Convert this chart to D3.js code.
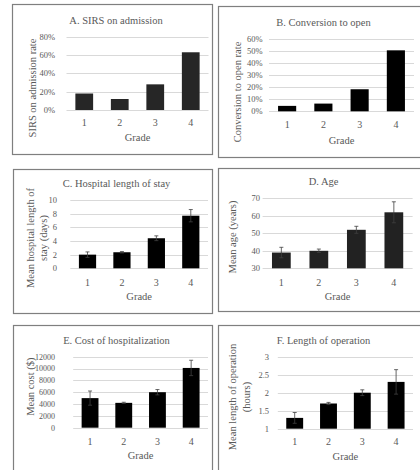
<!DOCTYPE html>
<html>
<head>
<meta charset="utf-8">
<script src="https://cdn.jsdelivr.net/npm/d3@7"></script>
<style>
  body { margin: 0; background: #fff; }
  svg text { font-family: 'Liberation Serif', serif; fill: #595959; }
</style>
</head>
<body>
<div id="chart"></div>
<script>
const grades = ['1', '2', '3', '4'];

const sirsRate = [18, 12, 28, 63];
const sirsTicks = [0, 20, 40, 60, 80];

const conversionRate = [4.5, 6.4, 18.3, 50.6];
const conversionTicks = [0, 10, 20, 30, 40, 50, 60];

const losMean = [2.0, 2.35, 4.4, 7.7];
const losErr = [0.4, 0.1, 0.35, 0.9];
const losTicks = [0, 2, 4, 6, 8, 10];

const ageMean = [39, 40, 52, 62];
const ageErr = [3, 1, 2, 6];
const ageTicks = [30, 40, 50, 60, 70];

const costMean = [5000, 4200, 6000, 10100];
const costErr = [1200, 100, 450, 1300];
const costTicks = [0, 2000, 4000, 6000, 8000, 10000, 12000];

const opMean = [1.3, 1.7, 2.0, 2.3];
const opErr = [0.15, 0.03, 0.08, 0.34];
const opTicks = [1, 1.5, 2, 2.5, 3];

const svg = d3.select('#chart').append('svg')
  .attr('width', 420)
  .attr('height', 470)
  .attr('font-family', 'Liberation Serif, serif');

// panel layouts (pixel positions only)
const panels = [
  { title: 'A. SIRS on admission', ylabel: ['SIRS on admission rate'], values: sirsRate, ticks: sirsTicks, fmt: d => d + '%',
    box: [12, 4, 212, 154], x: [66.5, 208.5], y: [110, 36.7], tickRight: 55, tickSize: 8.5,
    titleY: 20, xTickY: 122.7, gradeY: 137, ylabX: [32], ylabY: 88, fill: '#262626' },
  { title: 'B. Conversion to open', ylabel: ['Conversion to open rate'], values: conversionRate, ticks: conversionTicks, fmt: d => d + '%',
    box: [218, 6, 421, 157], x: [269, 414], y: [111.3, 39], tickRight: 262.7, tickSize: 8.5,
    titleY: 22.7, xTickY: 124, gradeY: 140, ylabX: [237.7], ylabY: 92, fill: '#000' },
  { title: 'C. Hospital length of stay', ylabel: ['Mean hospital length of', 'stay (days)'], values: losMean, err: losErr, ticks: losTicks, fmt: d => d,
    box: [13, 169, 212, 313], x: [70.3, 208], y: [268.3, 200], tickRight: 57, tickSize: 8.5,
    titleY: 183.3, xTickY: 282.7, gradeY: 296.7, ylabX: [30, 43.3], ylabY: 238, fill: '#000' },
  { title: 'D. Age', ylabel: ['Mean age (years)'], values: ageMean, err: ageErr, ticks: ageTicks, fmt: d => d,
    box: [218, 168, 421, 311], x: [262.6, 412.6], y: [268.3, 198.3], tickRight: 260, tickSize: 8.5,
    titleY: 181.7, xTickY: 282.7, gradeY: 296, ylabX: [232.7], ylabY: 237, fill: '#222' },
  { title: 'E. Cost of hospitalization', ylabel: ['Mean cost ($)'], values: costMean, err: costErr, ticks: costTicks, fmt: d => d,
    box: [13, 325, 212, 475], x: [73.2, 208], y: [427.7, 356.7], tickRight: 55, tickSize: 8,
    titleY: 340.7, xTickY: 441.7, gradeY: 455.7, ylabX: [30], ylabY: 386.7, fill: '#000' },
  { title: 'F. Length of operation', ylabel: ['Mean length of operation', '(hours)'], values: opMean, err: opErr, ticks: opTicks, fmt: d => d,
    box: [218, 325, 421, 475], x: [277.8, 413], y: [428.7, 356.7], tickRight: 269, tickSize: 8.5,
    titleY: 340.7, xTickY: 441.7, gradeY: 456.7, ylabX: [232.7, 246.7], ylabY: 397, fill: '#000' }
];

panels.forEach(p => {
  const g = svg.append('g').attr('class', 'panel');

  // frame
  g.append('rect')
    .attr('x', p.box[0] + 0.5)
    .attr('y', p.box[1] + 0.5)
    .attr('width', p.box[2] - p.box[0])
    .attr('height', p.box[3] - p.box[1])
    .attr('fill', 'none')
    .attr('stroke', '#7f7f7f')
    .attr('stroke-width', 1.2);

  const xScale = d3.scaleBand().domain(grades).range(p.x).paddingInner(0.5).paddingOuter(0.25);
  const yScale = d3.scaleLinear().domain(d3.extent(p.ticks)).range(p.y);

  // gridlines
  g.selectAll('.grid')
    .data(p.ticks)
    .enter().append('line')
    .attr('class', 'grid')
    .attr('x1', p.x[0]).attr('x2', p.x[1])
    .attr('y1', d => Math.round(yScale(d)) + 0.5)
    .attr('y2', d => Math.round(yScale(d)) + 0.5)
    .attr('stroke', '#d9d9d9')
    .attr('stroke-width', 1);

  // y tick labels
  g.selectAll('.ytick')
    .data(p.ticks)
    .enter().append('text')
    .attr('class', 'ytick')
    .attr('x', p.tickRight)
    .attr('y', d => yScale(d))
    .attr('dy', '0.35em')
    .attr('text-anchor', 'end')
    .style('font-size', p.tickSize + 'px')
    .text(p.fmt);

  // bars
  g.selectAll('.bar')
    .data(p.values)
    .enter().append('rect')
    .attr('class', 'bar')
    .attr('x', (d, i) => xScale(grades[i]))
    .attr('y', d => yScale(d))
    .attr('width', xScale.bandwidth())
    .attr('height', d => yScale(p.ticks[0]) - yScale(d))
    .style('fill', p.fill);

  // error bars
  if (p.err) {
    const cx = i => xScale(grades[i]) + xScale.bandwidth() / 2;
    const eb = g.selectAll('.err')
      .data(p.values)
      .enter().append('g')
      .attr('class', 'err')
      .attr('stroke', '#404040')
      .attr('stroke-width', 0.8);
    eb.append('line')
      .attr('x1', (d, i) => cx(i)).attr('x2', (d, i) => cx(i))
      .attr('y1', (d, i) => yScale(d + p.err[i]))
      .attr('y2', (d, i) => yScale(d - p.err[i]));
    eb.append('line')
      .attr('x1', (d, i) => cx(i) - 2).attr('x2', (d, i) => cx(i) + 2)
      .attr('y1', (d, i) => yScale(d + p.err[i]))
      .attr('y2', (d, i) => yScale(d + p.err[i]));
    eb.append('line')
      .attr('x1', (d, i) => cx(i) - 2).attr('x2', (d, i) => cx(i) + 2)
      .attr('y1', (d, i) => yScale(d - p.err[i]))
      .attr('y2', (d, i) => yScale(d - p.err[i]));
  }

  // x tick labels
  g.selectAll('.xtick')
    .data(grades)
    .enter().append('text')
    .attr('class', 'xtick')
    .attr('x', d => xScale(d) + xScale.bandwidth() / 2)
    .attr('y', p.xTickY)
    .attr('dy', '0.35em')
    .attr('text-anchor', 'middle')
    .style('font-size', '10px')
    .text(d => d);

  g.append('text')
    .attr('x', (p.x[0] + p.x[1]) / 2)
    .attr('y', p.gradeY)
    .attr('dy', '0.35em')
    .attr('text-anchor', 'middle')
    .style('font-size', '10.5px')
    .text('Grade');

  // title
  g.append('text')
    .attr('x', (p.box[0] + p.box[2]) / 2 + 4)
    .attr('y', p.titleY)
    .attr('dy', '0.35em')
    .attr('text-anchor', 'middle')
    .style('font-size', '10.5px')
    .text(p.title);

  // y axis title
  p.ylabel.forEach((line, k) => {
    g.append('text')
      .attr('transform', `translate(${p.ylabX[k]}, ${p.ylabY}) rotate(-90)`)
      .attr('dy', '0.35em')
      .attr('text-anchor', 'middle')
      .style('font-size', '10.5px')
      .text(line);
  });
});
</script>
</body>
</html>
